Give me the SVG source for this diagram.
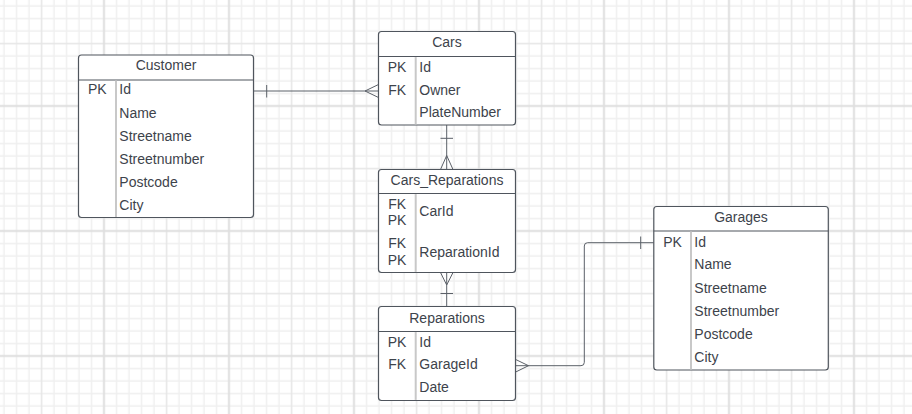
<svg xmlns="http://www.w3.org/2000/svg" width="912" height="414" viewBox="0 0 912 414">
<style>
.box{fill:#ffffff;stroke:#4f555d;stroke-width:1.2}
.hdr{stroke:#4f555d;stroke-width:1.2;fill:none}
.div{stroke:#c8c8c8;stroke-width:2;fill:none}
.t{font-family:"Liberation Sans",Arial,sans-serif;font-size:14px;fill:#3d434b}
.c{text-anchor:middle}
.ln{stroke:#5b6068;stroke-width:1;fill:none}
</style>
<defs>
<pattern id="grid" patternUnits="userSpaceOnUse" x="97.75" y="99.75" width="125" height="125">
<path d="M6.25 0V125M18.75 0V125M31.25 0V125M43.75 0V125M56.25 0V125M81.25 0V125M93.75 0V125M106.25 0V125M118.75 0V125M0 6.25H125M0 18.75H125M0 31.25H125M0 43.75H125M0 56.25H125M0 81.25H125M0 93.75H125M0 106.25H125M0 118.75H125" stroke="#efefef" stroke-width="1.4" fill="none"/>
<path d="M68.75 0V125M0 68.75H125" stroke="#e6e6e6" stroke-width="1.5" fill="none"/>
<path d="M6.25 0V125M0 6.25H125" stroke="#dfdfdf" stroke-width="2" fill="none"/>
</pattern>
</defs>
<rect x="0" y="0" width="912" height="414" fill="#ffffff"/>
<rect x="0" y="0" width="912" height="414" fill="url(#grid)"/>

<g id="connectors">
<path class="ln" d="M253.5 91H378.5M266.7 85V97.5M365 91L378.5 84.5M365 91L378.5 97.5"/>
<path class="ln" d="M446.7 125V169.5M440.5 138.3H453M440.5 169.5L446.7 155.5L453 169.5"/>
<path class="ln" d="M446.7 272.5V306.5M440.5 272.5L446.7 285L453 272.5M440.5 293.5H453"/>
<path class="ln" d="M515.7 365.7H581Q584.3 365.7 584.3 362.4V246Q584.3 242.7 587.6 242.7H653.8M640.7 236.5V249M515.7 359.5L528.5 365.7L515.7 372"/>
</g>

<g id="customer">
<rect class="box" x="78.5" y="55" width="175" height="162.5" rx="3"/>
<path class="hdr" d="M78.5 80H253.5"/>
<path class="div" d="M116 80.6V216.9"/>
<text class="t c" x="166" y="70">Customer</text>
<text class="t c" x="97.3" y="94.3">PK</text>
<text class="t" x="119.3" y="94.3">Id</text>
<text class="t" x="119.3" y="117.5">Name</text>
<text class="t" x="119.3" y="140.7">Streetname</text>
<text class="t" x="119.3" y="163.9">Streetnumber</text>
<text class="t" x="119.3" y="187.1">Postcode</text>
<text class="t" x="119.3" y="210.3">City</text>
</g>

<g id="cars">
<rect class="box" x="378.5" y="31.5" width="137" height="93.5" rx="3"/>
<path class="hdr" d="M378.5 56.5H515.5"/>
<path class="div" d="M415.7 57.1V124.4"/>
<text class="t c" x="447" y="46.7">Cars</text>
<text class="t c" x="397.1" y="71.7">PK</text>
<text class="t" x="419.3" y="71.7">Id</text>
<text class="t c" x="397.1" y="94.5">FK</text>
<text class="t" x="419.3" y="94.5">Owner</text>
<text class="t" x="419.3" y="117.3">PlateNumber</text>
</g>

<g id="cars_reparations">
<rect class="box" x="378.5" y="169.5" width="137" height="103" rx="3"/>
<path class="hdr" d="M378.5 193.5H515.5"/>
<path class="div" d="M415.7 194.1V271.9"/>
<text class="t c" x="447" y="185">Cars_Reparations</text>
<text class="t c" x="397.1" y="209.3">FK</text>
<text class="t c" x="397.1" y="225">PK</text>
<text class="t" x="419.3" y="216">CarId</text>
<text class="t c" x="397.1" y="248.3">FK</text>
<text class="t c" x="397.1" y="265">PK</text>
<text class="t" x="419.3" y="256.7">ReparationId</text>
</g>

<g id="reparations">
<rect class="box" x="378.5" y="306.5" width="137" height="94" rx="3"/>
<path class="hdr" d="M378.5 331.5H515.5"/>
<path class="div" d="M415.7 332.1V399.9"/>
<text class="t c" x="447" y="322.7">Reparations</text>
<text class="t c" x="397.1" y="346.7">PK</text>
<text class="t" x="419.3" y="346.7">Id</text>
<text class="t c" x="397.1" y="369.3">FK</text>
<text class="t" x="419.3" y="369.3">GarageId</text>
<text class="t" x="419.3" y="391.7">Date</text>
</g>

<g id="garages">
<rect class="box" x="653.8" y="206.5" width="174.5" height="163.5" rx="3"/>
<path class="hdr" d="M653.8 231H828.3"/>
<path class="div" d="M691 231.6V369.4"/>
<text class="t c" x="741" y="221.7">Garages</text>
<text class="t c" x="672.5" y="246.7">PK</text>
<text class="t" x="694.3" y="246.7">Id</text>
<text class="t" x="694.3" y="269.3">Name</text>
<text class="t" x="694.3" y="292.5">Streetname</text>
<text class="t" x="694.3" y="315.5">Streetnumber</text>
<text class="t" x="694.3" y="338.7">Postcode</text>
<text class="t" x="694.3" y="361.7">City</text>
</g>
</svg>
